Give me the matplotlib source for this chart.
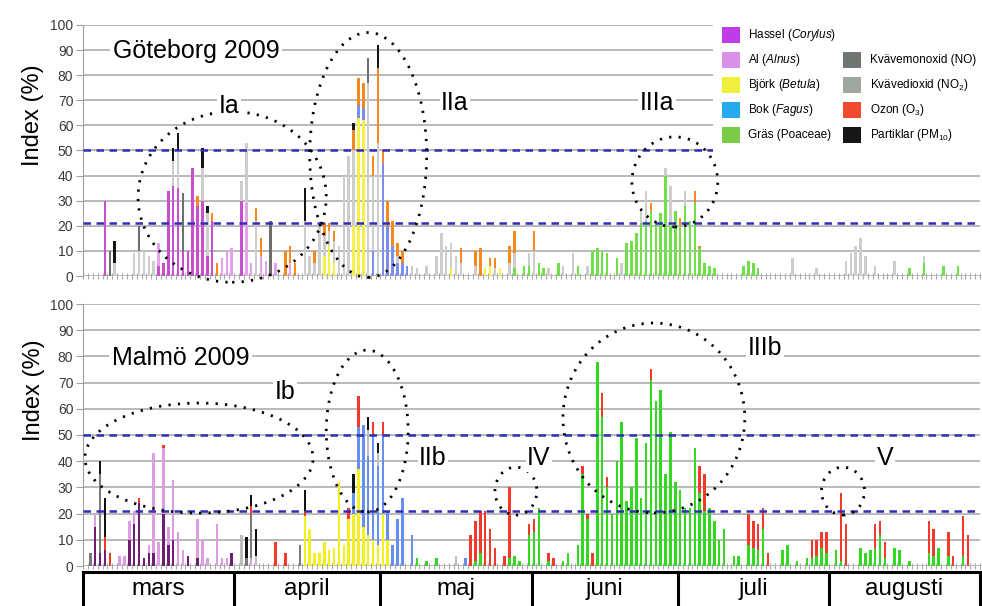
"""Daily pollen and air-quality index for Göteborg and Malmö, March-August 2009."""

import numpy as np
import matplotlib.pyplot as plt
from matplotlib.patches import Ellipse, Rectangle

plt.rcParams["font.family"] = ["Liberation Sans", "DejaVu Sans"]
plt.rcParams["mathtext.fontset"] = "custom"
plt.rcParams["mathtext.rm"] = "Liberation Sans"
plt.rcParams["mathtext.it"] = "Liberation Sans:italic"

N_DAYS = 184  # 1 March .. 31 August, day 0 = 1 March
months = ["mars", "april", "maj", "juni", "juli", "augusti"]
month_lengths = [31, 30, 31, 30, 31, 31]

# stacking order, bottom to top
series = ["hassel", "al", "bjork", "bok", "gras", "no2", "no", "ozon", "pm10"]

legend_left = [
    ("hassel", r"Hassel ($\mathit{Corylus}$)"),
    ("al", r"Al ($\mathit{Alnus}$)"),
    ("bjork", r"Björk ($\mathit{Betula}$)"),
    ("bok", r"Bok ($\mathit{Fagus}$)"),
    ("gras", "Gräs (Poaceae)"),
]
legend_right = [
    ("no", "Kvävemonoxid (NO)"),
    ("no2", r"Kvävedioxid (NO$_2$)"),
    ("ozon", r"Ozon (O$_3$)"),
    ("pm10", r"Partiklar (PM$_{10}$)"),
]

# ---- Göteborg, index per day {day: value} ----
gbg_hassel = {4: 30, 15: 4, 16: 5, 17: 34, 18: 36, 19: 35, 20: 10, 21: 10, 22: 43,
              23: 28, 24: 30, 25: 8, 26: 22, 32: 30}
gbg_al = {15: 9, 28: 7, 29: 10, 30: 11, 33: 29, 34: 5, 36: 8, 37: 6, 39: 5, 42: 5}
gbg_bjork = {49: 8, 50: 12, 51: 5, 55: 20, 56: 63, 57: 62, 75: 3, 82: 3, 83: 4, 85: 3}
gbg_bok = {56: 5, 57: 5, 59: 10, 61: 45, 62: 20, 63: 12, 64: 5, 65: 5, 66: 4}
gbg_gras = {88: 3, 90: 4, 91: 4, 93: 5, 94: 3, 97: 5, 101: 4, 104: 10, 105: 11, 106: 10,
            107: 9, 109: 7, 111: 13, 112: 14, 113: 17, 114: 21, 115: 22, 116: 26, 117: 21,
            118: 25, 119: 40, 120: 20, 121: 26, 122: 20, 123: 28, 124: 22, 125: 29, 126: 11,
            127: 5, 128: 4, 129: 3, 135: 4, 136: 6, 137: 5, 138: 3, 169: 3, 172: 5, 176: 4,
            179: 4}
gbg_no2 = {6: 5, 10: 9, 11: 10, 12: 10, 13: 8, 14: 6, 18: 10, 19: 15, 24: 13, 25: 17,
           32: 8, 33: 24, 35: 22, 45: 22, 46: 8, 47: 5, 48: 20, 49: 8, 50: 6, 51: 9, 52: 12,
           53: 40, 54: 48, 55: 30, 58: 77, 59: 30, 60: 53, 64: 3, 67: 4, 68: 3, 70: 4,
           72: 8, 73: 17, 74: 12, 75: 10, 76: 8, 77: 5, 80: 4, 84: 3, 87: 5, 88: 6, 91: 5,
           92: 10, 95: 3, 98: 4, 100: 9, 103: 4, 110: 5, 114: 6, 115: 12, 119: 3, 120: 16,
           123: 6, 145: 7, 150: 3, 156: 6, 157: 9, 158: 12, 159: 15, 160: 8, 162: 4,
           166: 6, 172: 3}
gbg_no = {5: 10, 11: 10, 20: 23, 38: 22, 58: 10}
gbg_ozon = {23: 4, 26: 3, 27: 5, 35: 5, 36: 7, 41: 10, 42: 7, 43: 5, 47: 5, 49: 5, 50: 3,
            51: 4, 55: 8, 56: 11, 57: 10, 59: 8, 60: 30, 61: 5, 62: 10, 63: 10, 64: 5,
            65: 5, 77: 6, 80: 6, 81: 11, 83: 3, 84: 4, 87: 7, 88: 9, 92: 8, 116: 3, 122: 3,
            125: 5, 126: 1}
gbg_pm10 = {6: 9, 18: 5, 19: 7, 24: 8, 25: 3, 45: 13, 55: 3, 60: 9}

# ---- Malmö, index per day {day: value} ----
mmo_hassel = {2: 15, 3: 5, 4: 6, 9: 10, 10: 16, 11: 24, 12: 3, 13: 5, 14: 5, 16: 20,
              17: 8, 18: 10, 21: 4, 23: 3, 30: 5}
mmo_al = {2: 5, 7: 4, 8: 4, 9: 7, 10: 5, 13: 3, 14: 38, 15: 9, 16: 25, 17: 7, 18: 23,
          19: 13, 20: 6, 23: 15, 24: 10, 25: 3, 27: 16, 28: 3, 29: 3, 34: 3}
mmo_bjork = {45: 19, 46: 14, 47: 5, 48: 5, 49: 9, 50: 6, 51: 7, 52: 32, 53: 8, 54: 18,
             55: 20, 56: 37, 57: 15, 58: 12, 59: 10, 60: 8, 61: 20, 62: 10}
mmo_bok = {55: 8, 56: 16, 57: 39, 58: 30, 59: 40, 60: 30, 61: 30, 62: 11, 63: 8, 64: 18,
           65: 26, 67: 12, 78: 3}
mmo_gras = {68: 3, 70: 2, 72: 3, 80: 2, 81: 5, 87: 3, 88: 4, 89: 2, 91: 12, 92: 13,
            93: 22, 95: 2, 98: 2, 99: 5, 101: 8, 102: 35, 103: 18, 105: 78, 106: 57,
            107: 30, 108: 20, 109: 40, 110: 55, 111: 25, 112: 30, 113: 49, 114: 26,
            115: 47, 116: 71, 117: 63, 118: 67, 119: 35, 120: 51, 121: 32, 122: 29,
            123: 22, 124: 22, 125: 45, 126: 28, 127: 21, 128: 22, 129: 17, 130: 10,
            131: 14, 133: 4, 134: 4, 136: 8, 137: 7, 138: 6, 139: 14, 143: 6, 144: 8,
            146: 2, 148: 3, 149: 3, 150: 4, 151: 7, 152: 5, 154: 6, 155: 2, 159: 7, 160: 5,
            161: 6, 162: 7, 163: 12, 164: 3, 166: 7, 167: 6, 169: 2, 173: 5, 174: 4,
            175: 7, 177: 4, 180: 4}
mmo_no2 = {32: 12, 35: 4, 58: 10, 60: 5, 76: 4}
mmo_no = {1: 5, 3: 30, 33: 3, 34: 17, 44: 8}
mmo_ozon = {4: 5, 5: 5, 11: 2, 16: 1, 34: 3, 39: 9, 41: 5, 45: 2, 54: 4, 56: 12, 59: 5,
            61: 5, 79: 12, 80: 15, 81: 16, 82: 21, 83: 14, 84: 7, 86: 4, 87: 27, 91: 4,
            92: 5, 95: 3, 96: 3, 102: 3, 103: 2, 104: 5, 106: 9, 107: 4, 116: 4, 126: 10,
            127: 14, 136: 12, 137: 10, 138: 10, 139: 8, 140: 5, 149: 7, 150: 6, 151: 6,
            152: 8, 155: 26, 156: 16, 162: 9, 163: 5, 164: 6, 173: 12, 174: 10, 177: 9,
            178: 4, 180: 15, 181: 12}
mmo_pm10 = {3: 5, 4: 15, 33: 8, 34: 4, 35: 10, 45: 8, 55: 7, 58: 5, 60: 4}

gbg_data = dict(hassel=gbg_hassel, al=gbg_al, bjork=gbg_bjork, bok=gbg_bok, gras=gbg_gras,
                no2=gbg_no2, no=gbg_no, ozon=gbg_ozon, pm10=gbg_pm10)
mmo_data = dict(hassel=mmo_hassel, al=mmo_al, bjork=mmo_bjork, bok=mmo_bok, gras=mmo_gras,
                no2=mmo_no2, no=mmo_no, ozon=mmo_ozon, pm10=mmo_pm10)

gbg_colors = dict(hassel="#c84fd0", al="#e3a3ea", bjork="#f6f04a", bok="#7c8ff0",
                  gras="#6fe04a", no2="#cdcdcd", no="#6e6e6e", ozon="#f7891f", pm10="#151515")
mmo_colors = dict(hassel="#6e1e72", al="#dc9ee0", bjork="#f4ef1e", bok="#6690f0",
                  gras="#35d820", no2="#bdbdbd", no="#7a7a7a", ozon="#f4382a", pm10="#111111")
legend_colors = dict(hassel="#c03ce6", al="#d98ee8", bjork="#eef03c", bok="#25aaf0",
                     gras="#7acb45", no="#6f756f", no2="#9fa89f", ozon="#f04b2e",
                     pm10="#161616")

# dotted ellipses: (label, centre day, centre value, width days, height value)
gbg_regions = [(30.6, 31.5, 38.6, 68.0), (58.5, 48.2, 24.0, 97.6), (121.4, 37.5, 17.6, 35.9)]
mmo_regions = [(23.8, 41.2, 46.8, 42.0), (58.3, 51.5, 16.8, 61.8), (88.8, 28.6, 8.6, 18.3),
               (117.1, 56.5, 37.3, 72.5), (155.9, 28.6, 8.8, 18.3)]
gbg_labels = [("Ia", 29.9, 67.7), ("IIa", 76.3, 68.9), ("IIIa", 117.7, 68.9)]
mmo_labels = [("Ib", 41.4, 66.4), ("IIb", 71.8, 41.2), ("IV", 93.5, 41.2),
              ("IIIb", 139.9, 83.2), ("V", 164.5, 41.2)]

W, H = 982, 606


def daily(values: dict) -> np.ndarray:
    """Expand a sparse {day: value} mapping into a full daily array."""

    arr = np.zeros(N_DAYS)
    for day, value in values.items():
        arr[day] = value
    return arr


def draw_panel(ax, data, colors, regions, labels, title, title_pos) -> None:
    """Stacked daily index bars with thresholds, regions and labels."""

    x = np.arange(N_DAYS) + 0.5
    bottom = np.zeros(N_DAYS)
    for name in series:
        values = daily(data[name])
        ax.bar(x, values, width=0.5, bottom=bottom, color=colors[name],
               linewidth=0, zorder=2)
        bottom += values

    ax.set_xlim(0, N_DAYS)
    ax.set_ylim(0, 100)
    ax.set_yticks(range(0, 101, 10))
    ax.grid(axis="y", color="#b4b4b4", linewidth=1.3)
    ax.set_axisbelow(True)
    for side in ("top", "right", "bottom"):
        ax.spines[side].set_visible(False)
    ax.spines["left"].set_color("#a0a0a0")
    ax.tick_params(axis="y", length=5, color="#a0a0a0", labelsize=10,
                   labelcolor="#3a3a3a", pad=2)
    ax.set_xticks([])
    ax.set_xticks(np.arange(N_DAYS + 1), minor=True)
    ax.tick_params(axis="x", which="minor", length=4, direction="inout",
                   color="#a8a8a8", width=0.8)

    for level in (50, 21):
        ax.axhline(level, color="#2e2eb8", linewidth=1.8, linestyle=(0, (3, 2.2)),
                   zorder=3)

    for cx, cy, w, h in regions:
        ax.add_patch(Ellipse((cx, cy), w, h, fill=False, edgecolor="black",
                             linewidth=2.0, linestyle=(0, (0.8, 2.6)), zorder=4,
                             clip_on=False))

    box = dict(facecolor="white", edgecolor="none", pad=1)
    for text, tx, ty in labels:
        ax.text(tx, ty, text, fontsize=18, ha="center", va="center", zorder=5, bbox=box)
    ax.text(title_pos[0], title_pos[1], title, fontsize=18, ha="center", va="center",
            zorder=5, bbox=dict(facecolor="white", edgecolor="none", pad=2))


fig = plt.figure(figsize=(W / 100, H / 100), dpi=100)

ax_top = fig.add_axes([83 / W, 1 - 276 / H, 897 / W, 251 / H])
ax_bot = fig.add_axes([83 / W, 1 - 566 / H, 897 / W, 262 / H])
ax_mon = fig.add_axes([83 / W, 0, 897 / W, 34 / H])

draw_panel(ax_top, gbg_data, gbg_colors, gbg_regions, gbg_labels, "Göteborg 2009", (23.2, 89.6))
draw_panel(ax_bot, mmo_data, mmo_colors, mmo_regions, mmo_labels, "Malmö 2009", (20.1, 79.4))

fig.text(33 / W, 1 - 115 / H, "Index (%)", rotation=90, fontsize=17, ha="center", va="center")
fig.text(34 / W, 1 - 390 / H, "Index (%)", rotation=90, fontsize=17, ha="center", va="center")

# month boxes under the lower panel
edges = np.concatenate([[0], np.cumsum(month_lengths)])
ax_mon.set_xlim(0, N_DAYS)
ax_mon.set_ylim(0, 1)
ax_mon.axis("off")
ax_mon.plot([0, N_DAYS], [1, 1], color="black", linewidth=2.2, clip_on=False)
for edge in edges:
    ax_mon.plot([edge, edge], [0, 1], color="black", linewidth=2.2, clip_on=False)
for name, start, end in zip(months, edges[:-1], edges[1:]):
    ax_mon.text((start + end) / 2, 0.5, name, fontsize=17.5, ha="center", va="center")

# legend box in the upper right corner
fig.add_artist(Rectangle((713 / W, 1 - 155 / H), 269 / W, 140 / H, transform=fig.transFigure,
                         facecolor="white", edgecolor="none", zorder=5))
rows_left = [35, 60, 85, 110, 135]
rows_right = [60, 85, 110, 135]
for (key, label), y in zip(legend_left, rows_left):
    fig.add_artist(Rectangle((722 / W, 1 - (y + 8) / H), 18 / W, 16 / H,
                             transform=fig.transFigure, facecolor=legend_colors[key],
                             edgecolor="none", zorder=6))
    fig.text(748 / W, 1 - y / H, label, fontsize=8.5, ha="left", va="center", zorder=6)
for (key, label), y in zip(legend_right, rows_right):
    fig.add_artist(Rectangle((843 / W, 1 - (y + 8) / H), 18 / W, 16 / H,
                             transform=fig.transFigure, facecolor=legend_colors[key],
                             edgecolor="none", zorder=6))
    fig.text(870 / W, 1 - y / H, label, fontsize=8.5, ha="left", va="center", zorder=6)

fig.savefig("out.png", dpi=100)
plt.close(fig)
